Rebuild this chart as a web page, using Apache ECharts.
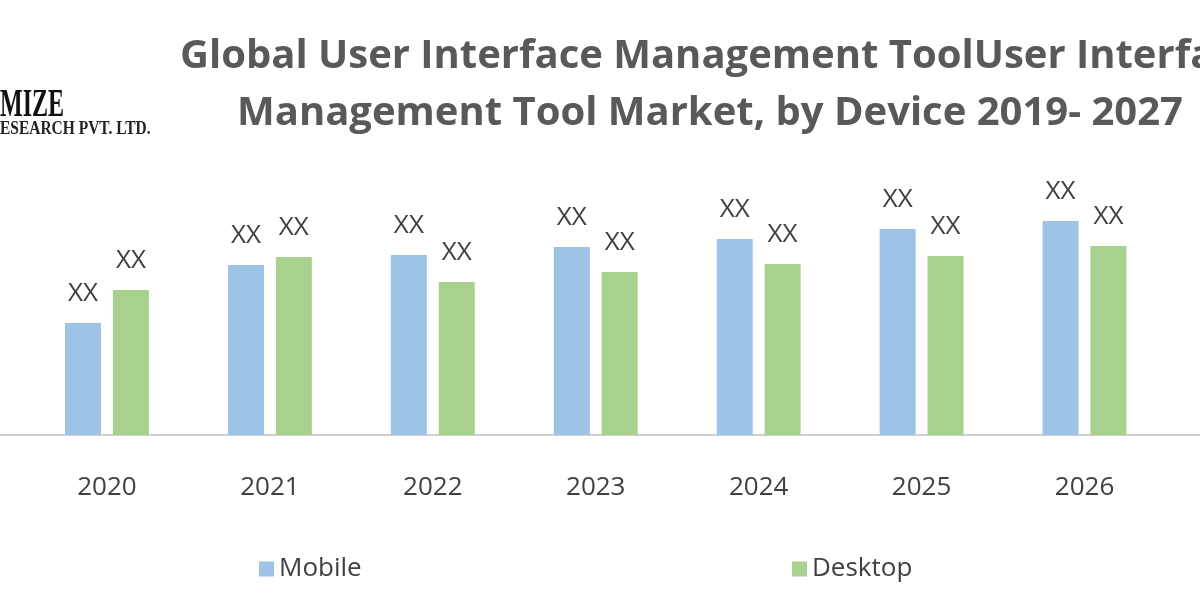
<!DOCTYPE html>
<html>
<head>
<meta charset="utf-8">
<script src="https://cdn.jsdelivr.net/npm/echarts@6/dist/echarts.min.js"></script>
<style>
html,body{margin:0;padding:0;background:#fff;}
#chart{width:1200px;height:600px;}
</style>
</head>
<body>
<div id="chart"></div>
<script>
// Data (visible window shows 2020-2026; 2019 and 2027 lie outside the cropped picture)
const years = ['2019','2020','2021','2022','2023','2024','2025','2026','2027'];
const mobile = [null, 112, 170, 180, 188, 196, 206, 214, null];
const desktop = [null, 145, 178, 153, 163, 171, 179, 189, null];
const seriesNames = ['Mobile', 'Desktop'];
const valueLabel = 'XX';
const titleLine1 = 'Global User Interface Management ToolUser Interfa';
const titleLine2 = 'Management Tool Market, by Device 2019- 2027';
const logoLine1 = 'MIZE';
const logoLine2 = 'ESEARCH PVT. LTD.';

const chart = echarts.init(document.getElementById('chart'));
const font = "'Open Sans', 'Liberation Sans', sans-serif";
const labelStyle = {
  show: true, position: 'top', distance: 16,
  formatter: function(){ return valueLabel; },
  fontFamily: font, fontSize: 26, color: '#404040'
};
chart.setOption({
  backgroundColor: '#ffffff',
  animation: false,
  title: [
    {text: titleLine1, left: 175, top: 32,
     textStyle:{fontFamily: font, fontSize: 40, fontWeight: 'bold', color: '#595959'}},
    {text: titleLine2, left: 232, top: 89,
     textStyle:{fontFamily: font, fontSize: 40, fontWeight: 'bold', color: '#595959'}}
  ],
  graphic: [
    {type:'text', x: 0, y: 86, scaleX: 0.6,
     style:{text: logoLine1, font: "bold 40px 'Liberation Serif', serif", fill:'#111', textVerticalAlign:'top'}},
    {type:'text', x: 0, y: 120, scaleX: 0.86,
     style:{text: logoLine2, font: "bold 18px 'Liberation Serif', serif", fill:'#222', textVerticalAlign:'top'}}
  ],
  legend: [
    {data:[seriesNames[0]], left: 254, top: 551, icon:'rect', itemWidth:15, itemHeight:15,
     textStyle:{fontFamily: font, fontSize: 26, color:'#404040', padding:[0,0,0,0]}},
    {data:[seriesNames[1]], left: 787, top: 551, icon:'rect', itemWidth:15, itemHeight:15,
     textStyle:{fontFamily: font, fontSize: 26, color:'#404040', padding:[0,0,0,0]}}
  ],
  grid: {left: -137.4, right: -128.9, top: 100, bottom: 165, outerBoundsMode: 'none', containLabel: false},
  xAxis: {
    type: 'category', data: years,
    axisLine: {lineStyle: {color: '#d0d0d0', width: 2}},
    axisTick: {show: false},
    axisLabel: {
      interval: function(i){ return i > 0 && i < years.length - 1; },
      margin: 40, fontFamily: font, fontSize: 26, color: '#404040'
    }
  },
  yAxis: {type: 'value', min: 0, max: 335, show: false, splitLine:{show:false}},
  series: [
    {name: seriesNames[0], type: 'bar', data: mobile, barWidth: 36, barGap: '33%',
     itemStyle: {color: '#9DC3E6'}, label: labelStyle},
    {name: seriesNames[1], type: 'bar', data: desktop, barWidth: 36,
     itemStyle: {color: '#A9D18E'}, label: labelStyle}
  ]
});
</script>
</body>
</html>
